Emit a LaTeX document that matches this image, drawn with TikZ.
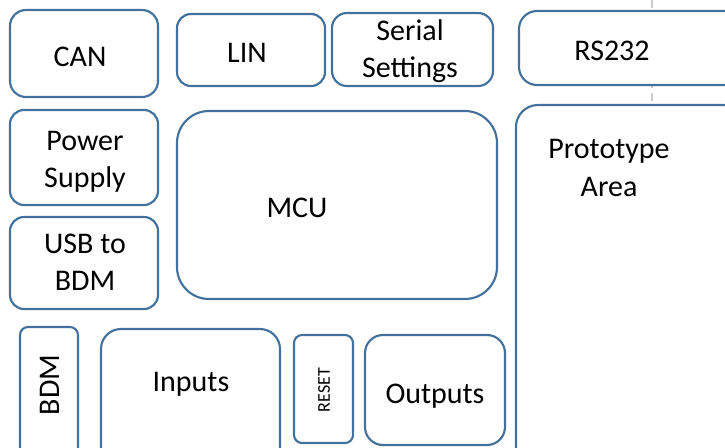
\documentclass[tikz,border=0pt]{standalone}
\usepackage{fontspec}
\setmainfont{Carlito}
\definecolor{boxblue}{RGB}{65,113,156}
\begin{document}
\begin{tikzpicture}[x=0.75pt,y=-0.75pt,
  blk/.style={draw=boxblue,line width=1.6pt,fill=white,rectangle,inner sep=0pt,outer sep=0pt},
  lbl/.style={font=\fontsize{22.5}{27.8}\selectfont,align=center,inner sep=0pt,text=black},
  small/.style={font=\fontsize{13.5}{16}\selectfont,inner sep=0pt,text=black}]
\def\u{0.75pt}
\useasboundingbox (0,0) rectangle (725,447);
\clip (0,0) rectangle (725,447);
\coordinate (gtop) at (652,0);
\coordinate (gbot) at (652,447);
\draw[black!20,line width=1pt,dash pattern=on 6pt off 4pt] (gtop) -- (gbot);
% boxes
\node[blk,minimum width=148*\u,minimum height=87*\u,rounded corners=16*\u] (can) at (84,53.5) {};
\node[blk,minimum width=148*\u,minimum height=72*\u,rounded corners=14*\u] (lin) at (251,50) {};
\node[blk,minimum width=161*\u,minimum height=73*\u,rounded corners=15*\u] (ser) at (412.5,49.5) {};
\node[blk,minimum width=226*\u,minimum height=74*\u,rounded corners=18*\u] (rs) at (632,48) {};
\node[blk,minimum width=148*\u,minimum height=95*\u,rounded corners=14*\u] (pwr) at (84,157.5) {};
\node[blk,minimum width=148*\u,minimum height=92*\u,rounded corners=14*\u] (usb) at (84,263) {};
\node[blk,minimum width=320*\u,minimum height=188*\u,rounded corners=32*\u] (mcu) at (337,205) {};
\node[blk,minimum width=229*\u,minimum height=365*\u,rounded corners=22*\u] (proto) at (630.5,287.5) {};
\node[blk,minimum width=58*\u,minimum height=143*\u,rounded corners=8*\u] (bdm) at (49,398.5) {};
\node[blk,minimum width=179*\u,minimum height=141*\u,rounded corners=20*\u] (inp) at (190.5,399.5) {};
\node[blk,minimum width=59*\u,minimum height=108*\u,rounded corners=8*\u] (rst) at (323.5,389) {};
\node[blk,minimum width=140*\u,minimum height=110*\u,rounded corners=18*\u] (out) at (435,390) {};
% labels
\node[lbl] (tcan) at (80,57) {CAN};
\node[lbl] (tlin) at (247,53) {LIN};
\node[lbl] (tser) at (410,51.5) {Serial\\Settings};
\node[lbl] (trs) at (612,51) {RS232};
\node[lbl] (tpwr) at (85,161.5) {Power\\Supply};
\node[lbl] (tusb) at (85,262.5) {USB to\\BDM};
\node[lbl] (tmcu) at (297,208) {MCU};
\node[lbl] (tproto) at (609,168) {Prototype\\Area};
\node[lbl,rotate=90] (tbdm) at (50,385) {BDM};
\node[lbl] (tinp) at (191,384) {Inputs};
\node[small,rotate=90] (trst) at (324,390) {RESET};
\node[lbl] (tout) at (435,396) {Outputs};
\end{tikzpicture}
\end{document}
